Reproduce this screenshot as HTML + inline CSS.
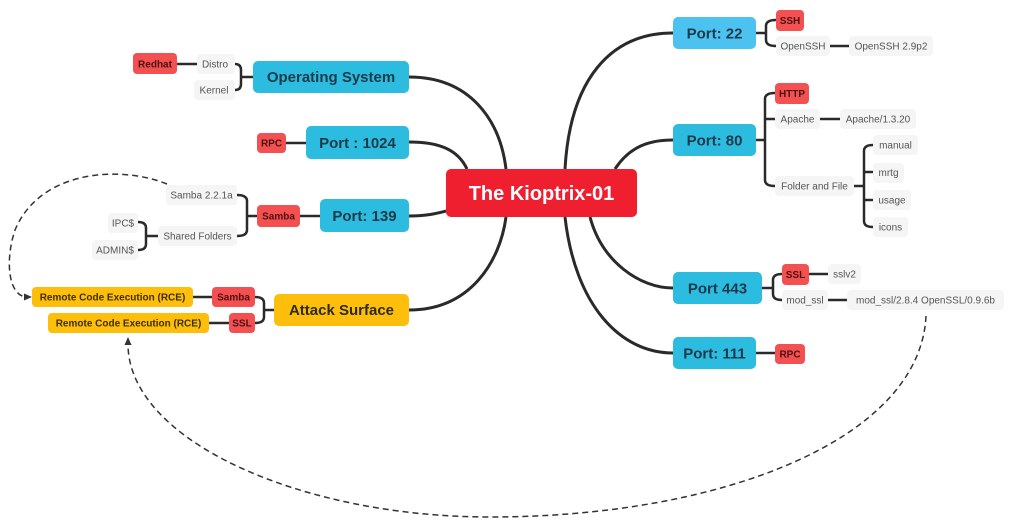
<!DOCTYPE html>
<html>
<head>
<meta charset="utf-8">
<style>
html,body{margin:0;padding:0;background:#fff;}
svg{display:block;}
text{font-family:"Liberation Sans",sans-serif;}
.big{font-size:15px;font-weight:bold;fill:#1e3a4a;}
.red{font-size:10px;font-weight:bold;fill:#4e1010;}
.gray{font-size:10px;fill:#555;}
.rce{font-size:10px;font-weight:bold;fill:#3d2f00;}
.ln{fill:none;stroke:#2a2a2a;stroke-width:2.5;stroke-linecap:round;}
.main{fill:none;stroke:#2a2a2a;stroke-width:3;}
.dash{fill:none;stroke:#333;stroke-width:1.5;stroke-dasharray:6,4;}
</style>
</head>
<body>
<svg width="1024" height="528" viewBox="0 0 1024 528" xmlns="http://www.w3.org/2000/svg">
<rect width="1024" height="528" fill="#fff"/>

<!-- dashed connectors -->
<path class="dash" d="M167 184 C120 165,40 170,15 230 C5 260,8 295,26 297"/>
<polygon points="32,297 24,293.5 24,300.5" fill="#333"/>
<path class="dash" d="M926 316 C920 440,720 517,490 517 C300 517,128 440,128 344"/>
<polygon points="128,337 124.5,345 131.5,345" fill="#333"/>

<!-- main connectors -->
<path class="main" d="M409 77 C470 77,500 120,506 169"/>
<path class="main" d="M409 142 C440 142,458 150,467 169"/>
<path class="main" d="M409 216 C428 216,438 213,446 211"/>
<path class="main" d="M409 310 C470 310,500 262,506 217"/>
<path class="main" d="M565 169 C570 80,610 33,673 33"/>
<path class="main" d="M615 169 C630 146,650 140,673 140"/>
<path class="main" d="M590 217 C602 262,640 288,673 288"/>
<path class="main" d="M565 217 C575 305,620 353,673 353"/>

<!-- left sub connectors -->
<path class="ln" d="M177 64 L197 64"/>
<path class="ln" d="M235 64 Q241 64 241 70 L241 84 Q241 90 235 90 M241 77 L253 77"/>
<path class="ln" d="M286 143 L306 143"/>
<path class="ln" d="M300 216 L320 216"/>
<path class="ln" d="M237 195 Q247 195 247 201 L247 230 Q247 236 237 236 M247 216 L257 216"/>
<path class="ln" d="M138 222 Q146 222 146 228 L146 244 Q146 250 138 250 M146 236 L160 236"/>
<path class="ln" d="M255 297 Q264 297 264 303 L264 317 Q264 323 255 323 M264 310 L274 310"/>
<path class="ln" d="M193 297 L212 297"/>
<path class="ln" d="M209 323 L229 323"/>

<!-- right sub connectors -->
<path class="ln" d="M756 33 L766 33 M776 20 Q766 20 766 26 L766 40 Q766 46 776 46"/>
<path class="ln" d="M830 46 L849 46"/>
<path class="ln" d="M756 140 L765 140 M775 93 Q765 93 765 99 L765 180 Q765 186 775 186 M765 119 L775 119"/>
<path class="ln" d="M820 119 L840 119"/>
<path class="ln" d="M854 186 L864 186 M873 145 Q864 145 864 151 L864 221 Q864 227 873 227 M864 172 L873 172 M864 200 L873 200"/>
<path class="ln" d="M762 288 L773 288 M782 274 Q773 274 773 280 L773 294 Q773 300 782 300"/>
<path class="ln" d="M809 274 L828 274"/>
<path class="ln" d="M828 300 L847 300"/>
<path class="ln" d="M756 353 L775 353"/>

<!-- central -->
<rect x="446" y="169" width="191" height="48" rx="5" fill="#ef1f30"/>
<text x="541.5" y="200" text-anchor="middle" font-size="20" font-weight="bold" fill="#fff">The Kioptrix-01</text>

<!-- left main nodes -->
<rect x="253" y="61" width="156" height="32" rx="5" fill="#2bbcdf"/>
<text class="big" x="331" y="82" text-anchor="middle">Operating System</text>
<rect x="306" y="126" width="103" height="33" rx="5" fill="#2bbcdf"/>
<text class="big" x="357.5" y="148" text-anchor="middle">Port : 1024</text>
<rect x="320" y="199" width="89" height="33" rx="5" fill="#2bbcdf"/>
<text class="big" x="364.5" y="221" text-anchor="middle">Port: 139</text>
<rect x="274" y="294" width="135" height="32" rx="5" fill="#fdbe0c"/>
<text class="big" x="341.5" y="315" text-anchor="middle" style="fill:#2e2a1a">Attack Surface</text>

<!-- left leaves -->
<rect x="133" y="53" width="44" height="21" rx="4" fill="#f35052"/>
<text class="red" x="155" y="67.5" text-anchor="middle">Redhat</text>
<rect x="197" y="54" width="38" height="20" rx="4" fill="#f5f5f5"/>
<text class="gray" x="215" y="67.5" text-anchor="middle">Distro</text>
<rect x="194" y="80" width="41" height="20" rx="4" fill="#f5f5f5"/>
<text class="gray" x="214" y="93.5" text-anchor="middle">Kernel</text>
<rect x="257" y="133" width="29" height="20" rx="4" fill="#f35052"/>
<text class="red" x="271.5" y="146.5" text-anchor="middle">RPC</text>
<rect x="257" y="205" width="43" height="22" rx="4" fill="#f35052"/>
<text class="red" x="278.5" y="219.5" text-anchor="middle">Samba</text>
<rect x="166" y="185" width="71" height="20" rx="4" fill="#f5f5f5"/>
<text class="gray" x="201.5" y="198.5" text-anchor="middle">Samba 2.2.1a</text>
<rect x="158" y="226" width="79" height="20" rx="4" fill="#f5f5f5"/>
<text class="gray" x="197.5" y="239.5" text-anchor="middle">Shared Folders</text>
<rect x="108" y="213" width="30" height="20" rx="4" fill="#f5f5f5"/>
<text class="gray" x="123" y="226.5" text-anchor="middle">IPC$</text>
<rect x="92" y="240" width="46" height="20" rx="4" fill="#f5f5f5"/>
<text class="gray" x="115" y="253.5" text-anchor="middle">ADMIN$</text>

<rect x="212" y="287" width="43" height="20" rx="4" fill="#f35052"/>
<text class="red" x="233.5" y="300.5" text-anchor="middle">Samba</text>
<rect x="229" y="313" width="26" height="20" rx="4" fill="#f35052"/>
<text class="red" x="242" y="326.5" text-anchor="middle">SSL</text>
<rect x="32" y="287" width="161" height="20" rx="4" fill="#fdbe0c"/>
<text class="rce" x="112.5" y="300.5" text-anchor="middle">Remote Code Execution (RCE)</text>
<rect x="48" y="313" width="161" height="20" rx="4" fill="#fdbe0c"/>
<text class="rce" x="128.5" y="326.5" text-anchor="middle">Remote Code Execution (RCE)</text>

<!-- right main nodes -->
<rect x="673" y="17" width="83" height="32" rx="5" fill="#4cc2f0"/>
<text class="big" x="714.5" y="38.5" text-anchor="middle">Port: 22</text>
<rect x="673" y="124" width="83" height="32" rx="5" fill="#2bbcdf"/>
<text class="big" x="714.5" y="145.5" text-anchor="middle">Port: 80</text>
<rect x="673" y="272" width="89" height="32" rx="5" fill="#2bbcdf"/>
<text class="big" x="717.5" y="293.5" text-anchor="middle">Port 443</text>
<rect x="673" y="337" width="83" height="32" rx="5" fill="#2bbcdf"/>
<text class="big" x="714.5" y="358.5" text-anchor="middle">Port: 111</text>

<!-- right leaves -->
<rect x="776" y="10" width="28" height="21" rx="4" fill="#f35052"/>
<text class="red" x="790" y="24" text-anchor="middle">SSH</text>
<rect x="776" y="36" width="54" height="20" rx="4" fill="#f5f5f5"/>
<text class="gray" x="803" y="49.5" text-anchor="middle">OpenSSH</text>
<rect x="849" y="36" width="84" height="20" rx="4" fill="#f5f5f5"/>
<text class="gray" x="891" y="49.5" text-anchor="middle">OpenSSH 2.9p2</text>

<rect x="775" y="83" width="34" height="21" rx="4" fill="#f35052"/>
<text class="red" x="792" y="97" text-anchor="middle">HTTP</text>
<rect x="775" y="109" width="45" height="20" rx="4" fill="#f5f5f5"/>
<text class="gray" x="797.5" y="122.5" text-anchor="middle">Apache</text>
<rect x="840" y="109" width="76" height="20" rx="4" fill="#f5f5f5"/>
<text class="gray" x="878" y="122.5" text-anchor="middle">Apache/1.3.20</text>
<rect x="775" y="176" width="79" height="20" rx="4" fill="#f5f5f5"/>
<text class="gray" x="814.5" y="189.5" text-anchor="middle">Folder and File</text>
<rect x="873" y="135" width="45" height="20" rx="4" fill="#f5f5f5"/>
<text class="gray" x="895.5" y="148.5" text-anchor="middle">manual</text>
<rect x="873" y="163" width="31" height="20" rx="4" fill="#f5f5f5"/>
<text class="gray" x="888.5" y="176" text-anchor="middle">mrtg</text>
<rect x="873" y="190" width="38" height="20" rx="4" fill="#f5f5f5"/>
<text class="gray" x="892" y="203.5" text-anchor="middle">usage</text>
<rect x="873" y="217" width="35" height="20" rx="4" fill="#f5f5f5"/>
<text class="gray" x="890.5" y="230.5" text-anchor="middle">icons</text>

<rect x="782" y="264" width="27" height="21" rx="4" fill="#f35052"/>
<text class="red" x="795.5" y="278" text-anchor="middle">SSL</text>
<rect x="828" y="264" width="33" height="20" rx="4" fill="#f5f5f5"/>
<text class="gray" x="844.5" y="277.5" text-anchor="middle">sslv2</text>
<rect x="782" y="290" width="46" height="20" rx="4" fill="#f5f5f5"/>
<text class="gray" x="805" y="303.5" text-anchor="middle">mod_ssl</text>
<rect x="847" y="290" width="157" height="20" rx="4" fill="#f5f5f5"/>
<text class="gray" x="925.5" y="303.5" text-anchor="middle">mod_ssl/2.8.4 OpenSSL/0.9.6b</text>

<rect x="775" y="344" width="30" height="20" rx="4" fill="#f35052"/>
<text class="red" x="790" y="357.5" text-anchor="middle">RPC</text>
</svg>
</body>
</html>
